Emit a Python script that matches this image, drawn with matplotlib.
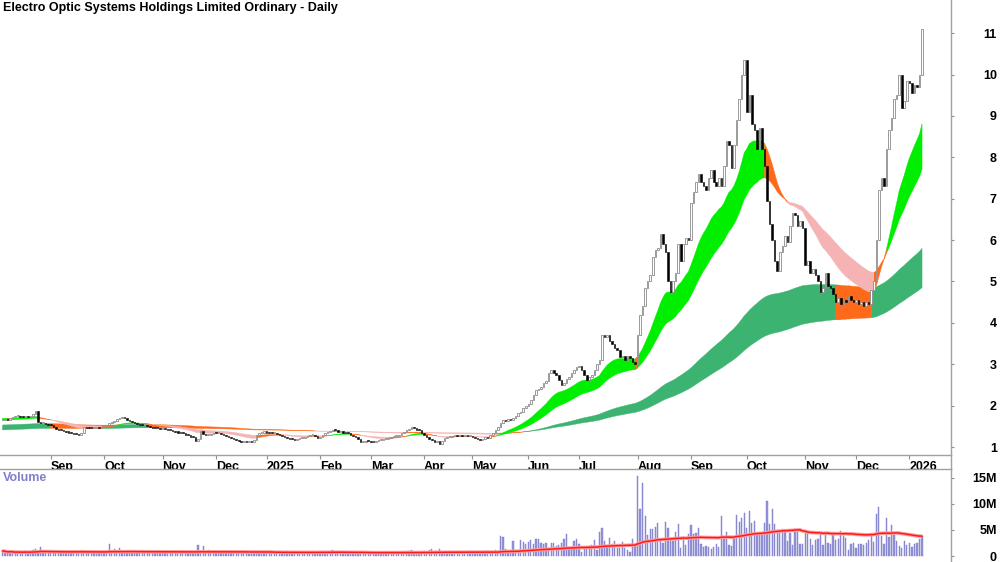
import matplotlib
matplotlib.use("Agg")
import matplotlib.pyplot as plt
from matplotlib.lines import Line2D
import matplotlib.transforms as mtransforms
import numpy as np
import pandas as pd

plt.rcParams['font.family'] = ['Liberation Sans Narrow', 'Liberation Sans', 'DejaVu Sans']
plt.rcParams['font.weight'] = 'bold'

# ASX trading days shown on the chart
holidays = ["2024-12-25", "2024-12-26", "2025-01-01", "2025-01-27", "2025-04-18",
            "2025-04-21", "2025-04-25", "2025-06-09", "2025-12-25", "2025-12-26", "2026-01-01"]
dates = pd.bdate_range("2024-08-06", "2026-01-09", freq="C", holidays=holidays)

# daily closes, one list per month (Aug 2024 .. Jan 2026)
close = (
    [1.65, 1.68, 1.66, 1.7, 1.72, 1.74, 1.76, 1.73, 1.72, 1.74, 1.72, 1.75, 1.8, 1.86, 1.6, 1.57, 1.58, 1.55, 1.54]
    + [1.52, 1.48, 1.44, 1.41, 1.4, 1.38, 1.37, 1.35, 1.34, 1.32, 1.31, 1.3, 1.35, 1.48, 1.47, 1.46, 1.45, 1.46, 1.47, 1.46, 1.48]
    + [1.5, 1.54, 1.58, 1.6, 1.64, 1.68, 1.7, 1.72, 1.7, 1.66, 1.62, 1.6, 1.58, 1.56, 1.54, 1.52, 1.52, 1.5, 1.48, 1.47, 1.46, 1.45, 1.44]
    + [1.44, 1.43, 1.42, 1.4, 1.39, 1.37, 1.35, 1.34, 1.33, 1.3, 1.28, 1.25, 1.24, 1.15, 1.2, 1.38, 1.32, 1.28, 1.3, 1.32, 1.34]
    + [1.33, 1.35, 1.32, 1.3, 1.27, 1.24, 1.22, 1.2, 1.17, 1.14, 1.12, 1.13, 1.11, 1.14, 1.12, 1.18, 1.3, 1.34, 1.35, 1.36]
    + [1.35, 1.34, 1.33, 1.34, 1.32, 1.3, 1.27, 1.25, 1.22, 1.2, 1.19, 1.18, 1.2, 1.22, 1.22, 1.24, 1.26, 1.29, 1.3, 1.27, 1.22]
    + [1.24, 1.28, 1.34, 1.36, 1.38, 1.41, 1.4, 1.37, 1.38, 1.35, 1.34, 1.33, 1.28, 1.27, 1.24, 1.2, 1.12, 1.13, 1.15, 1.14]
    + [1.13, 1.12, 1.14, 1.16, 1.18, 1.19, 1.2, 1.22, 1.24, 1.26, 1.27, 1.3, 1.34, 1.37, 1.4, 1.44, 1.48, 1.45, 1.42, 1.4, 1.35]
    + [1.3, 1.24, 1.2, 1.16, 1.12, 1.14, 1.08, 1.15, 1.22, 1.24, 1.25, 1.27, 1.28, 1.26, 1.28, 1.27, 1.28, 1.26, 1.27]
    + [1.25, 1.22, 1.2, 1.17, 1.2, 1.24, 1.22, 1.28, 1.34, 1.4, 1.48, 1.58, 1.65, 1.63, 1.68, 1.65, 1.7, 1.75, 1.82, 1.85, 1.94, 2.0]
    + [2.05, 2.13, 2.25, 2.38, 2.4, 2.45, 2.55, 2.6, 2.8, 2.85, 2.8, 2.75, 2.62, 2.5, 2.55, 2.65, 2.7, 2.8, 2.85, 2.93]
    + [2.95, 2.85, 2.75, 2.62, 2.7, 2.75, 2.85, 3.0, 3.1, 3.7, 3.65, 3.7, 3.55, 3.5, 3.4, 3.35, 3.17, 3.2, 3.1, 3.2, 3.15, 3.05, 3.0]
    + [3.7, 4.2, 4.4, 4.85, 5.0, 5.15, 5.6, 5.75, 5.8, 6.15, 5.9, 5.7, 5.0, 4.75, 5.0, 5.2, 5.9, 5.5, 5.9, 6.05, 6.0]
    + [6.9, 7.15, 7.4, 7.6, 7.4, 7.3, 7.2, 7.5, 7.7, 7.4, 7.3, 7.5, 7.3, 7.8, 8.4, 8.3, 7.75, 8.3, 8.9, 9.4, 10.0, 10.35]
    + [9.1, 9.5, 8.8, 8.65, 8.2, 8.7, 8.2, 7.8, 6.95, 6.4, 6.0, 5.5, 5.25, 5.7, 5.85, 6.1, 5.95, 6.35, 6.65, 6.6, 6.35, 6.45, 6.3]
    + [5.4, 5.5, 5.2, 5.3, 5.15, 5.0, 4.75, 4.85, 5.2, 4.9, 4.85, 4.7, 4.5, 4.6, 4.45, 4.55, 4.5, 4.65, 4.55, 4.5]
    + [4.55, 4.45, 4.5, 4.4, 4.5, 4.45, 4.8, 5.0, 6.0, 7.2, 7.5, 7.3, 8.2, 8.65, 8.95, 9.4, 9.5, 10.0, 9.2, 9.35, 9.85]
    + [9.8, 9.55, 9.75, 9.7, 10.0, 11.1]
)

# daily volume in millions
volume = (
    [1.0, 0.8, 0.6, 0.9, 0.7, 0.5, 0.8, 0.6, 0.7, 0.9, 0.6, 0.8, 1.1, 1.3, 0.9, 1.8, 0.7, 0.8, 0.6]
    + [0.7, 0.6, 0.8, 0.9, 0.6, 0.5, 0.7, 0.9, 0.8, 0.6, 0.7, 0.8, 1.2, 0.9, 0.6, 0.7, 0.5, 0.6, 0.8, 0.7, 0.6]
    + [0.8, 0.9, 2.4, 1.0, 1.4, 0.9, 1.55, 0.8, 0.7, 0.6, 0.8, 0.7, 0.5, 0.6, 0.7, 0.9, 0.6, 0.5, 0.7, 0.6, 0.8, 0.5, 0.6]
    + [0.6, 0.5, 0.7, 0.6, 0.8, 0.5, 0.6, 0.7, 0.5, 0.6, 0.9, 0.7, 0.8, 1.0, 2.05, 0.9, 1.85, 0.8, 1.1, 0.7, 0.6]
    + [0.7, 0.6, 0.5, 0.8, 0.6, 0.5, 0.7, 0.9, 0.6, 0.5, 0.8, 0.6, 0.5, 0.4, 0.6, 0.9, 1.0, 0.5, 0.3, 0.6]
    + [0.6, 0.7, 0.5, 0.6, 0.8, 0.5, 0.6, 0.7, 0.9, 0.5, 0.6, 0.5, 0.7, 0.6, 0.8, 0.6, 0.5, 0.7, 0.9, 0.6, 0.5]
    + [0.8, 1.0, 0.7, 0.6, 0.9, 1.1, 0.7, 0.6, 0.8, 0.5, 0.6, 0.7, 0.5, 0.6, 0.8, 0.7, 0.9, 0.6, 0.5, 0.6]
    + [0.5, 0.4, 0.6, 0.5, 0.7, 0.4, 0.5, 0.6, 0.5, 0.7, 0.6, 0.5, 0.8, 0.7, 0.9, 1.0, 1.2, 0.8, 0.7, 0.6, 0.9]
    + [0.9, 0.8, 1.1, 1.3, 1.0, 0.9, 1.4, 0.8, 0.7, 0.6, 0.8, 0.7, 0.6, 0.9, 0.7, 0.6, 0.8, 0.7, 1.0]
    + [0.7, 0.9, 0.6, 0.8, 0.7, 1.0, 0.9, 0.6, 0.8, 1.1, 0.9, 3.85, 3.65, 1.4, 0.8, 1.0, 2.95, 1.2, 1.0, 3.1, 2.75, 2.3]
    + [2.75, 3.1, 2.3, 3.3, 3.2, 2.55, 2.3, 2.55, 1.5, 2.55, 2.55, 1.9, 2.2, 2.5, 3.2, 4.2, 1.1, 1.8, 2.8, 3.2]
    + [2.4, 0.8, 1.7, 1.7, 1.4, 2.2, 3.0, 1.2, 4.7, 5.45, 2.8, 1.7, 3.45, 2.3, 2.8, 1.6, 1.5, 2.7, 1.6, 1.1, 0.8, 3.2, 2.0]
    + [15.4, 9.1, 14.1, 7.7, 4.0, 5.2, 5.1, 5.5, 6.4, 3.3, 2.5, 6.5, 5.45, 3.1, 2.95, 4.7, 6.2, 1.5, 3.6, 2.2, 4.2]
    + [6.0, 4.3, 4.4, 5.3, 2.3, 1.7, 1.9, 1.7, 1.4, 1.7, 2.3, 1.7, 7.6, 3.2, 4.7, 2.2, 2.0, 3.45, 7.8, 6.5, 7.2, 8.3]
    + [5.3, 8.7, 6.3, 6.8, 4.3, 4.3, 4.2, 6.4, 10.6, 6.2, 9.1, 6.2, 5.0, 5.0, 5.1, 4.7, 2.95, 4.5, 2.1, 4.7, 4.7, 2.4, 2.4]
    + [4.6, 4.6, 3.2, 2.2, 3.0, 3.2, 4.6, 2.05, 4.6, 2.55, 2.3, 4.2, 3.0, 3.2, 4.8, 3.85, 3.5, 1.15, 2.3, 2.55]
    + [1.6, 2.3, 2.3, 2.05, 2.55, 3.05, 3.75, 2.7, 8.0, 9.4, 3.8, 2.4, 7.2, 3.6, 5.9, 4.0, 2.8, 1.9, 1.5, 2.8, 2.05]
    + [2.55, 1.8, 2.3, 2.55, 3.2, 3.85]
)

# moving average bands: (fast span, slow span) and starting levels read at the left edge
short_spans = (20, 40)
short_start = (1.70, 1.65)
long_spans = (150, 240)
long_start = (1.53, 1.41)
vol_ma_days = 65

price_ticks = [1, 2, 3, 4, 5, 6, 7, 8, 9, 10, 11]
vol_ticks = [0, 5, 10, 15]
vol_tick_labels = ["0", "5M", "10M", "15M"]


def ema(values, span, start):
    a = 2.0 / (span + 1)
    out = []
    e = start
    for v in values:
        e = e + a * (v - e)
        out.append(e)
    return np.array(out)


def band_states(fast, slow):
    mid = (fast + slow) / 2
    rising = np.diff(mid, prepend=mid[0]) >= 0
    up = fast > slow
    state = np.full(len(fast), "orange", dtype=object)
    state[up & rising] = "green"
    state[~up & ~rising] = "pink"
    return state


n = len(dates)
x = np.arange(n)
c = np.array(close)
o = np.concatenate([[c[0]], c[:-1]])

fig = plt.figure(figsize=(10, 5.62), dpi=100)
ax = fig.add_axes([0, 0.1904, 0.951, 0.8096])
ax.set_xlim(-0.98, 373.4)
ax.set_ylim(0.807, 11.8)


def draw_band(fast, slow, palette):
    state = band_states(fast, slow)
    lo = np.minimum(fast, slow)
    hi = np.maximum(fast, slow)
    for key, col in palette.items():
        m = state == key
        m = m | np.roll(m, 1) & (np.arange(n) > 0)
        ax.fill_between(x, lo, hi, where=m, color=col, lw=0.3, edgecolor=col, interpolate=False)


lf = ema(close, long_spans[0], long_start[0])
ls = ema(close, long_spans[1], long_start[1])
sf = ema(close, short_spans[0], short_start[0])
ss = ema(close, short_spans[1], short_start[1])
draw_band(lf, ls, {"green": "#3cb371", "orange": "#ff6a1a", "pink": "#f6b3b3"})
draw_band(sf, ss, {"green": "#00ee00", "orange": "#ff6a1a", "pink": "#f6b3b3"})

# candles: body from previous close to close
up = c >= o
body_lo = np.minimum(o, c)
body_h = np.maximum(np.abs(c - o), 0.025)
ax.bar(x[up], body_h[up], bottom=body_lo[up], width=0.62, facecolor="white",
       edgecolor="#8a8a8a", linewidth=0.6, zorder=3)
ax.bar(x[~up], body_h[~up], bottom=body_lo[~up], width=0.62, facecolor="black",
       edgecolor="black", linewidth=0.4, zorder=3)

# month ticks
months = pd.Series(dates).dt.to_period("M")
first = np.where(months.values[1:] != months.values[:-1])[0] + 1
labels = [dates[i].strftime("%Y") if dates[i].month == 1 else dates[i].strftime("%b") for i in first]
ax.set_xticks(first)
ax.set_xticklabels(labels, fontsize=9, fontweight="bold", ha="left")
off = mtransforms.ScaledTranslation(2 / 100, 0, fig.dpi_scale_trans)
for lab in ax.get_xticklabels():
    lab.set_transform(lab.get_transform() + off)
ax.tick_params(axis="x", length=3, width=0.8, color="#909090", pad=1)

ax.yaxis.tick_right()
ax.set_yticks(price_ticks)
ax.set_yticklabels([str(t) for t in price_ticks], fontsize=9, fontweight="bold", ha="right")
ax.tick_params(axis="y", length=2, width=0.8, color="#909090", pad=31)
for s in ["top", "left"]:
    ax.spines[s].set_visible(False)
for s in ["bottom", "right"]:
    ax.spines[s].set_color("#a0a0a0")
    ax.spines[s].set_linewidth(1.0)

fig.text(0.003, 0.986, "Electro Optic Systems Holdings Limited Ordinary - Daily",
         fontsize=9, fontweight="bold", va="center", ha="left")

# volume panel
vax = fig.add_axes([0, 0, 0.951, 0.1655])
vax.set_xlim(-0.98, 373.4)
vax.set_ylim(-1.15, 16.7)
vax.bar(x, volume, width=0.5, color="#9494da", edgecolor="#7a7ac8", linewidth=0.3)
vma = pd.Series(volume).rolling(vol_ma_days, min_periods=1).mean()
vax.plot(x, vma, color="#ff9c9c", lw=2.6, solid_capstyle="butt")
vax.plot(x, vma, color="#ff1a1a", lw=1.1)
vax.set_xticks([])
vax.yaxis.tick_right()
vax.set_yticks(vol_ticks)
vax.set_yticklabels(vol_tick_labels, fontsize=9, fontweight="bold", ha="right")
vax.tick_params(axis="y", length=2, width=0.8, color="#909090", pad=31)
for s in ["bottom", "left"]:
    vax.spines[s].set_visible(False)
for s in ["top", "right"]:
    vax.spines[s].set_color("#a0a0a0")
    vax.spines[s].set_linewidth(1.0)
vax.text(0.003, 0.9, "Volume", transform=vax.transAxes, color="#7f7fcc",
         fontsize=9, fontweight="bold", va="center", ha="left")

fig.add_artist(Line2D([0.951, 0.951], [0.1655, 0.1904], color="#a0a0a0", lw=1.0))

fig.savefig("out.png")
